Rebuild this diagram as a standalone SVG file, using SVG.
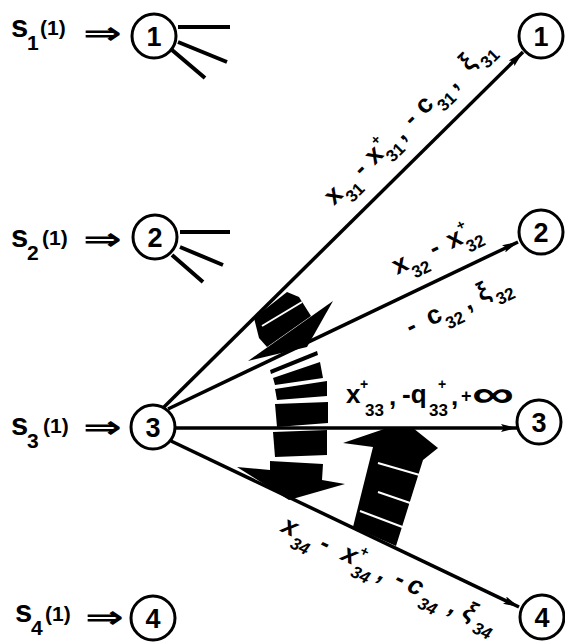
<svg xmlns="http://www.w3.org/2000/svg" width="565" height="644" viewBox="0 0 565 644">
<style>
text{font-family:"Liberation Sans",Arial,sans-serif;font-weight:bold;fill:#000}
.nc{fill:#fff;stroke:#000;stroke-width:3}
.num{font-size:27px;text-anchor:middle}
.s{font-size:31px}
.ssub{font-size:21px}
.par{font-size:21px}
.dbl{font-family:"DejaVu Sans",sans-serif;font-size:32px}
.lb{font-size:26px}
.sub{font-size:17px}
.sup{font-size:14px}
.it{font-style:italic}
.conn{stroke:#000;stroke-width:3.5;fill:none}
.spoke{stroke:#000;stroke-width:4;fill:none}
.blk{fill:#000}
.wst{stroke:#fff;stroke-width:2;fill:none}
</style>
<defs>
<marker id="ah" viewBox="0 0 16 8" refX="16" refY="4" markerUnits="userSpaceOnUse" markerWidth="16" markerHeight="8" orient="auto">
<path d="M0,0 L16,4 L0,8 L3,4 z" fill="#000"/>
</marker>
</defs>

<g id="connectors">
<path class="conn" d="M163,408 L523,52" marker-end="url(#ah)"/>
<path class="conn" d="M168,409 L518,242" marker-end="url(#ah)"/>
<path class="conn" d="M176,428 L517,428" marker-end="url(#ah)"/>
<path class="conn" d="M171,441 L519,607" marker-end="url(#ah)"/>
<path class="spoke" d="M178,27 L230,27 M178,42 L227,62 M172,50 L205,78"/>
<path class="spoke" d="M180,232 L230,232 M180,247 L223,265 M172,255 L203,282"/>
</g>

<g id="L1">
<text x="11" y="37" class="s">s</text><text x="27" y="50" class="ssub">1</text><text x="40" y="35" class="par">(1)</text>
<text class="dbl" transform="translate(83,44) scale(1.45,1)">⇒</text>
<circle class="nc" cx="154" cy="36" r="22"/><text class="num" x="154" y="46">1</text>
</g>
<g id="L2">
<text x="11" y="247" class="s">s</text><text x="27" y="260" class="ssub">2</text><text x="42" y="245" class="par">(1)</text>
<text class="dbl" transform="translate(83,250) scale(1.45,1)">⇒</text>
<circle class="nc" cx="155" cy="237" r="22"/><text class="num" x="155" y="247">2</text>
</g>
<g id="L3">
<text x="11" y="435" class="s">s</text><text x="27" y="448" class="ssub">3</text><text x="43" y="433" class="par">(1)</text>
<text class="dbl" transform="translate(83,438) scale(1.45,1)">⇒</text>
<circle class="nc" cx="153" cy="427" r="22"/><text class="num" x="153" y="437">3</text>
</g>
<g id="L4">
<text x="15" y="622" class="s">s</text><text x="31" y="635" class="ssub">4</text><text x="45" y="621" class="par">(1)</text>
<text class="dbl" transform="translate(85,628) scale(1.45,1)">⇒</text>
<circle class="nc" cx="153" cy="618" r="22"/><text class="num" x="153" y="628">4</text>
</g>

<g id="R1"><circle class="nc" cx="541" cy="36" r="22"/><text class="num" x="541" y="46">1</text></g>
<g id="R2"><circle class="nc" cx="541" cy="232" r="22"/><text class="num" x="541" y="242">2</text></g>
<g id="R3"><circle class="nc" cx="539" cy="422" r="22"/><text class="num" x="539" y="432">3</text></g>
<g id="R4"><circle class="nc" cx="542" cy="617" r="22"/><text class="num" x="542" y="627">4</text></g>

<g id="label31" transform="translate(334,206) rotate(-44.8)">
<text class="lb"><tspan x="0" y="0">x</tspan><tspan class="sub" x="15" y="11">31</tspan><tspan x="40" y="0">-</tspan><tspan x="57" y="0">x</tspan><tspan class="sup" x="72" y="-13">+</tspan><tspan class="sub" x="72" y="11">31</tspan><tspan x="94" y="2">,</tspan><tspan x="111" y="0">-</tspan><tspan x="128" y="0">c</tspan><tspan class="sub" x="144" y="11">31</tspan><tspan x="167" y="2">,</tspan><tspan x="190" y="0">ξ</tspan><tspan class="sub" x="205" y="11">31</tspan></text>
</g>
<g id="label32a" transform="translate(397,275) rotate(-25.5)">
<text class="lb"><tspan x="0" y="0">x</tspan><tspan class="sub" x="15" y="11">32</tspan><tspan x="41" y="0">-</tspan><tspan x="60" y="0">x</tspan><tspan class="sup" x="75" y="-13">+</tspan><tspan class="sub" x="75" y="11">32</tspan></text>
</g>
<g id="label32b" transform="translate(418,332) rotate(-25.5)">
<text class="lb"><tspan x="-8" y="0">-</tspan><tspan x="14" y="0">c</tspan><tspan class="sub" x="29" y="11">32</tspan><tspan x="54" y="2">,</tspan><tspan x="70" y="0">ξ</tspan><tspan class="sub" x="85" y="11">32</tspan></text>
</g>
<g id="label33">
<text class="lb"><tspan x="346" y="403">x</tspan><tspan class="sup" x="360" y="389">+</tspan><tspan class="sub" x="365" y="416">33</tspan><tspan x="389" y="405">,</tspan><tspan x="402" y="403">-q</tspan><tspan class="sup" x="438" y="389">+</tspan><tspan class="sub" x="429" y="416">33</tspan><tspan x="451" y="405">,</tspan><tspan x="461" y="402" style="font-size:18px">+</tspan></text>
<text class="lb" transform="translate(472,407) scale(1.55,1)" style="font-size:38px">∞</text>
</g>
<g id="label34" transform="translate(280,531) rotate(25.2)">
<text class="lb it"><tspan x="0" y="0">x</tspan><tspan class="sub" x="15" y="11">34</tspan><tspan x="42" y="0">-</tspan><tspan x="66" y="0">x</tspan><tspan class="sup" x="81" y="-13">+</tspan><tspan class="sub" x="82" y="11">34</tspan><tspan x="108" y="2">,</tspan><tspan x="125" y="0">-</tspan><tspan x="139" y="0">c</tspan><tspan class="sub" x="156" y="11">34</tspan><tspan x="186" y="2">,</tspan><tspan x="200" y="0">ξ</tspan><tspan class="sub" x="216" y="10">34</tspan></text>
</g>

<g id="shift-arrow-upper">
<polygon class="blk" points="254,318 287,292 299,297 311,316 267,347 259,338"/>
<path class="wst" d="M262,326 L302,302"/>
<polygon class="blk" points="248,361 333,301 307,347"/>
</g>
<g id="shift-arrow-down">
<polygon class="blk" points="270,370 317,351 318,355 271,374"/>
<polygon class="blk" points="273,378 320,362 323,378 275,385"/>
<polygon class="blk" points="275,389 327,381 327,396 277,400"/>
<polygon class="blk" points="275,404 328,402 328,423 277,427"/>
<polygon class="blk" points="273,432 327,430 327,455 275,457"/>
<polygon class="blk" points="270,461 323,464 322,480 345,484 289,500 237,467 270,470"/>
</g>
<g id="shift-arrow-up">
<polygon class="blk" points="343,443 387,428 413,428 438,448 423,460 396,546 353,527 373,447"/>
<path class="wst" d="M378,463 L423,476 M378,492 L416,505 M360,511 L405,528"/>
</g>
</svg>
